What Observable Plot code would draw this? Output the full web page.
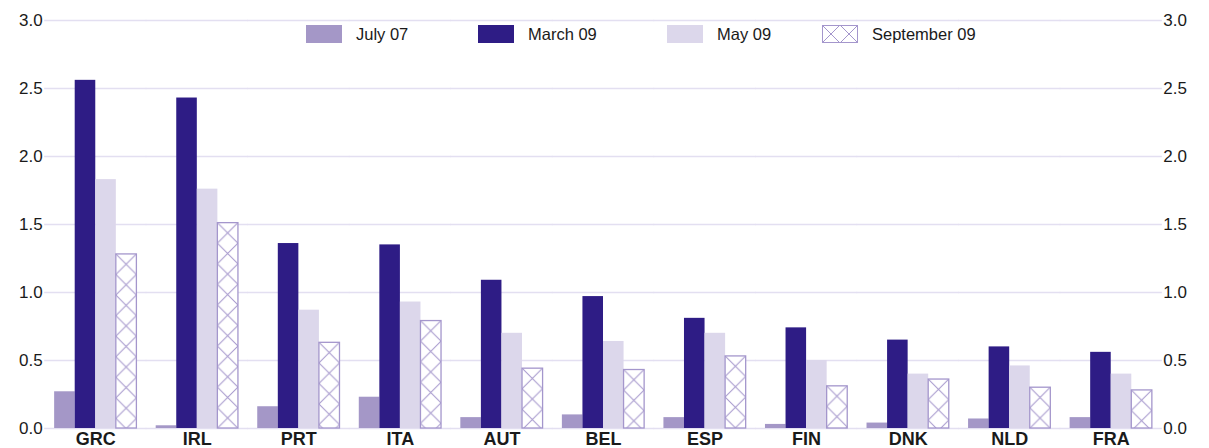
<!DOCTYPE html>
<html><head><meta charset="utf-8">
<script src="https://cdn.jsdelivr.net/npm/d3@7"></script>
<script src="https://cdn.jsdelivr.net/npm/@observablehq/plot@0.6"></script>
<style>
body{margin:0;background:#fff;font-family:"Liberation Sans",Arial,sans-serif;}
#wrap{position:relative;width:1209px;height:448px;}
.item{position:absolute;top:25px;height:18px;display:flex;align-items:center;font-size:16.5px;color:#1a1a1a;white-space:nowrap;}
.sw{width:36px;height:18px;margin-right:14px;display:block;}
</style></head><body><div id="wrap"></div>
<script>
// ---- data ----
const countries = ["GRC","IRL","PRT","ITA","AUT","BEL","ESP","FIN","DNK","NLD","FRA"];
const seriesNames = ["July 07","March 09","May 09","September 09"];
const july07 = [0.27,0.02,0.16,0.23,0.08,0.10,0.08,0.03,0.04,0.07,0.08];
const march09 = [2.56,2.43,1.36,1.35,1.09,0.97,0.81,0.74,0.65,0.60,0.56];
const may09 = [1.83,1.76,0.87,0.93,0.70,0.64,0.70,0.50,0.40,0.46,0.40];
const sep09 = [1.28,1.51,0.63,0.79,0.44,0.43,0.53,0.31,0.36,0.30,0.28];
const yTicks = [0,0.5,1,1.5,2,2.5,3];

// ---- styles ----
const seriesColors = ["#a497c7","#2e1c85","#dcd7eb","#ffffff"];
const hatchColor = "#a496cc";
const gridColor = "#e3dff1";

const valuesBySeries = [july07, march09, may09, sep09];
const rows = countries.flatMap((c,i)=>seriesNames.map((s,j)=>({country:c, series:s, value:valuesBySeries[j][i]})));

const chart = Plot.plot({
  width:1209, height:448,
  marginLeft:45, marginRight:48, marginTop:20, marginBottom:20,
  style:{fontFamily:"'Liberation Sans', Arial, sans-serif", color:"#1a1a1a", background:"transparent"},
  fx:{domain:countries, paddingInner:0.19, paddingOuter:0.09, round:false, label:null},
  x:{domain:seriesNames, padding:0, round:false, axis:null},
  y:{domain:[0,3], label:null},
  color:{domain:seriesNames, range:seriesColors},
  marks:[
    Plot.ruleY(yTicks, {y:d=>d, stroke:gridColor, strokeWidth:1.5, insetLeft:-10, insetRight:-10, facet:null}),
    Plot.barY(rows.filter(d=>d.series!=="September 09"), {fx:"country", x:"series", y:"value", fill:"series"}),
    Plot.barY(rows.filter(d=>d.series==="September 09"), {fx:"country", x:"series", y:"value", fill:"white", stroke:hatchColor, strokeWidth:1.3, className:"hatch"}),
    Plot.axisY(yTicks, {anchor:"left", tickSize:0, tickPadding:12, tickFormat:d3.format(".1f"), fontSize:17, label:null}),
    Plot.axisY(yTicks, {anchor:"right", tickSize:0, tickPadding:11, tickFormat:d3.format(".1f"), fontSize:17, label:null}),
    Plot.axisFx({anchor:"bottom", tickSize:0, tickPadding:4, fontSize:18, fontWeight:"bold", label:null})
  ]
});

const wrap = document.getElementById("wrap");
wrap.appendChild(chart);

// hatch patterns, one per bar, anchored on the bar's top-left
const svgNS = "http://www.w3.org/2000/svg";
const svg = chart.tagName.toLowerCase()==="svg" ? chart : chart.querySelector("svg");
const defs = document.createElementNS(svgNS,"defs");
svg.insertBefore(defs, svg.firstChild);
svg.querySelectorAll(".hatch rect").forEach((r,k)=>{
  const x = +r.getAttribute("x"), y = +r.getAttribute("y"), w = +r.getAttribute("width");
  const p = document.createElementNS(svgNS,"pattern");
  p.setAttribute("id","hp"+k);
  p.setAttribute("patternUnits","userSpaceOnUse");
  p.setAttribute("x",x); p.setAttribute("y",y);
  p.setAttribute("width",w); p.setAttribute("height",w);
  p.innerHTML = `<rect width="${w}" height="${w}" fill="#fff"/><path d="M0,0L${w},${w}M${w},0L0,${w}" stroke="${hatchColor}" stroke-width="1" fill="none"/>`;
  defs.appendChild(p);
  r.setAttribute("fill",`url(#hp${k})`);
});

// legend
const legendLeft = [306,478,667,822];
seriesNames.forEach((s,j)=>{
  const it = document.createElement("div");
  it.className="item";
  it.style.left = legendLeft[j]+"px";
  let sw;
  if (j===3) {
    sw = `<svg class="sw" width="36" height="18"><rect x="0.5" y="0.5" width="35" height="17" fill="#fff" stroke="${hatchColor}"/><path d="M0,0L18,18M18,0L0,18M18,0L36,18M36,0L18,18" stroke="${hatchColor}" stroke-width="1"/></svg>`;
  } else {
    sw = `<span class="sw" style="background:${seriesColors[j]}"></span>`;
  }
  it.innerHTML = sw + `<span>${s}</span>`;
  wrap.appendChild(it);
});
</script>
</body></html>
